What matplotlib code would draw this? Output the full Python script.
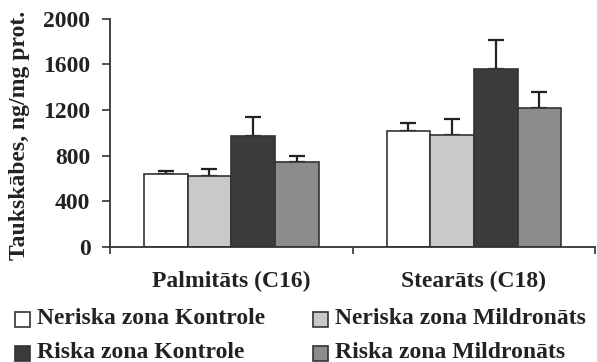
import numpy as np
import matplotlib.pyplot as plt
from matplotlib.patches import Rectangle

# dati
kategorijas = ['Palmitāts (C16)', 'Stearāts (C18)']
grupas = ['Neriska zona Kontrole', 'Neriska zona Mildronāts',
          'Riska zona Kontrole', 'Riska zona Mildronāts']
vertibas = [[640, 1020],
            [625, 980],
            [970, 1560],
            [745, 1220]]
kludas = [[25, 70],
          [60, 140],
          [165, 250],
          [50, 135]]
krasas = ['#ffffff', '#c9c9c9', '#3b3b3b', '#8c8c8c']

plt.rcParams['font.family'] = 'Liberation Serif'
plt.rcParams['font.weight'] = 'bold'

W, H = 597, 362
fig = plt.figure(figsize=(W / 100, H / 100), dpi=100)
ax = fig.add_axes([0.184, 0.318, 0.813, 0.63])

x = np.arange(len(kategorijas))
w = 0.18
for i in range(len(grupas)):
    pos = x + (i - 1.5) * w
    ax.bar(pos, vertibas[i], w, color=krasas[i], edgecolor='#333333',
           linewidth=1.2, zorder=2)
    ax.errorbar(pos, vertibas[i], yerr=[np.zeros(2), kludas[i]], fmt='none',
                ecolor='#222222', elinewidth=1.6, capsize=6, capthick=1.6,
                zorder=1)

ax.set_xlim(-0.5, 1.5)
ax.set_ylim(0, 2000)
ax.set_yticks([0, 400, 800, 1200, 1600, 2000])
ax.set_xticks([-0.5, 0.5, 1.5])
ax.set_xticklabels([])
ax.tick_params(axis='x', length=5, width=1.2, colors='#333333')
ax.tick_params(axis='y', length=6, width=1.2, colors='#333333',
               labelcolor='#222222', labelsize=17, pad=8)
for lbl in ax.get_yticklabels():
    lbl.set_fontweight('bold')

# kategoriju nosaukumi zem ass
for k, nos in enumerate(kategorijas):
    ax.text(x[k], -210, nos, ha='center', va='top', fontsize=17,
            fontweight='bold', color='#222222', clip_on=False)

ax.spines['top'].set_visible(False)
ax.spines['right'].set_visible(False)
ax.spines['left'].set_linewidth(1.3)
ax.spines['bottom'].set_linewidth(1.3)
ax.spines['left'].set_color('#333333')
ax.spines['bottom'].set_color('#333333')

fig.text(0.032, 0.625, 'Taukskābes, ng/mg prot.', rotation=90, ha='center',
         va='center', fontsize=17, fontweight='bold', color='#222222')

# apzīmējumi divās kolonnās (pikseļos no augšējā kreisā stūra)
kol_x = [15, 313]
rind_y = [319, 353]
izk = [(0, 0), (1, 0), (0, 1), (1, 1)]  # (kolonna, rinda) katrai grupai
kv = 15
for i, (k, r) in enumerate(izk):
    x0 = kol_x[k]
    yc = rind_y[r]
    fig.patches.append(Rectangle((x0 / W, 1 - (yc + kv / 2) / H), kv / W, kv / H,
                                 transform=fig.transFigure, facecolor=krasas[i],
                                 edgecolor='#333333', linewidth=1.2))
    fig.text((x0 + kv + 7) / W, 1 - yc / H, grupas[i], ha='left',
             va='center', fontsize=17, fontweight='bold', color='#222222')

plt.savefig('out.png', dpi=100)
